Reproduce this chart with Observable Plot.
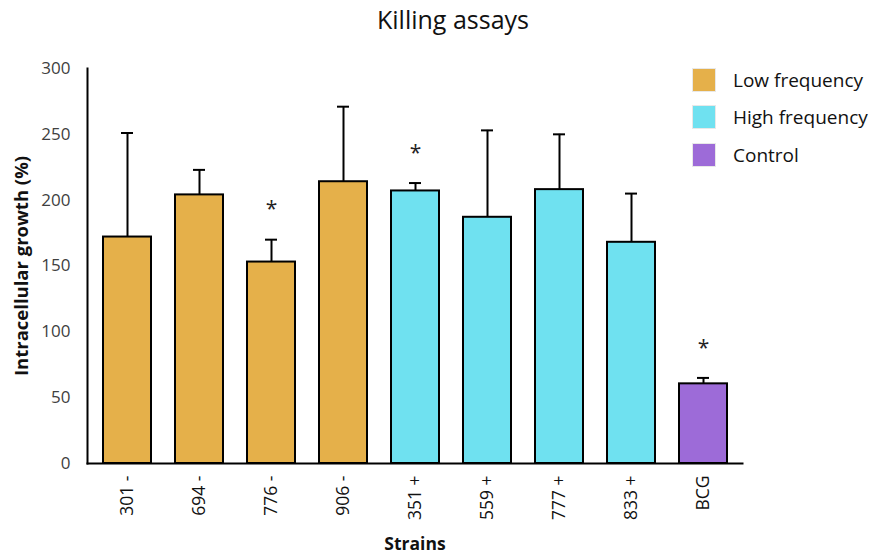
<!DOCTYPE html>
<html>
<head>
<meta charset="utf-8">
<script src="https://cdn.jsdelivr.net/npm/d3@7"></script>
<script src="https://cdn.jsdelivr.net/npm/@observablehq/plot@0.6"></script>
<style>
  html, body { margin: 0; padding: 0; background: #fff; }
  #wrap { position: relative; width: 888px; height: 554px; font-family: "Open Sans", sans-serif; }
  #title { position: absolute; left: 0; width: 888px; top: 2px; text-align: center; font-size: 25px; color: #111; padding-left: 18px; box-sizing: border-box; }
  #legend { position: absolute; left: 692px; top: 61px; }
  .item { display: flex; align-items: center; height: 37.5px; font-size: 19px; color: #111; }
  .sw { width: 24px; height: 24px; margin-right: 17px; box-sizing: border-box; border: 1px solid #e8e8e8; }
  #chart { position: absolute; left: 0; top: 0; }
</style>
</head>
<body>
<div id="wrap">
  <div id="chart"></div>
  <div id="title">Killing assays</div>
  <div id="legend"></div>
</div>
<script>
const strains = ["301 -", "694 -", "776 -", "906 -", "351 +", "559 +", "777 +", "833 +", "BCG"];
const groups = ["Low frequency", "Low frequency", "Low frequency", "Low frequency",
                "High frequency", "High frequency", "High frequency", "High frequency", "Control"];
const means = [172, 204, 153, 214, 207, 187, 208, 168, 60.5];
const errors = [79, 19, 17, 57, 6, 66, 42, 37, 4.5];
const significant = [false, false, true, false, true, false, false, false, true];
const groupNames = ["Low frequency", "High frequency", "Control"];
const groupColors = ["#E5B04A", "#6FE1F0", "#9D6BD8"];
const yTicks = [0, 50, 100, 150, 200, 250, 300];

const data = strains.map((s, i) => ({
  strain: s, group: groups[i], mean: means[i], high: means[i] + errors[i], sig: significant[i]
}));

const chart = Plot.plot({
  width: 888,
  height: 554,
  marginTop: 68,
  marginBottom: 91,
  marginLeft: 87,
  marginRight: 146,
  style: { fontFamily: "Open Sans, sans-serif", background: "transparent" },
  x: { domain: strains, paddingInner: 0.34, paddingOuter: 0.19, label: null },
  y: { domain: [0, 300], ticks: yTicks, label: null },
  color: { domain: groupNames, range: groupColors },
  marks: [
    Plot.ruleX(data, { x: "strain", y1: "mean", y2: "high", stroke: "#000", strokeWidth: 2 }),
    Plot.tickY(data, { x: "strain", y: "high", stroke: "#000", strokeWidth: 2, insetLeft: 18, insetRight: 18 }),
    Plot.barY(data, { x: "strain", y: "mean", fill: "group", stroke: "#000", strokeWidth: 2 }),
    Plot.text(data.filter(d => d.sig), { x: "strain", y: "high", text: () => "*", dy: -30, fontSize: 21, fill: "#222" }),
    Plot.axisY({ ticks: yTicks, tickSize: 0, tickPadding: 17, fontSize: 17, color: "#404040", label: null }),
    Plot.axisX({ tickSize: 0, tickRotate: -90, tickPadding: 12, fontSize: 17.5, color: "#111", label: null }),
    Plot.frame({ anchor: "left", stroke: "#000", strokeWidth: 2 }),
    Plot.frame({ anchor: "bottom", stroke: "#000", strokeWidth: 2 }),
    Plot.text(["Strains"], { frameAnchor: "bottom", dy: 86, fontSize: 17.5, fontWeight: "bold", fill: "#111" }),
    Plot.text(["Intracellular growth (%)"], { frameAnchor: "left", textAnchor: "middle", dx: -65, rotate: -90, fontSize: 18.5, fontWeight: "bold", fill: "#111" })
  ]
});
document.getElementById("chart").appendChild(chart);

const legend = document.getElementById("legend");
groupNames.forEach((g, i) => {
  const item = document.createElement("div");
  item.className = "item";
  const sw = document.createElement("div");
  sw.className = "sw";
  sw.style.background = groupColors[i];
  const t = document.createElement("span");
  t.textContent = g;
  item.appendChild(sw);
  item.appendChild(t);
  legend.appendChild(item);
});
</script>
</body>
</html>
